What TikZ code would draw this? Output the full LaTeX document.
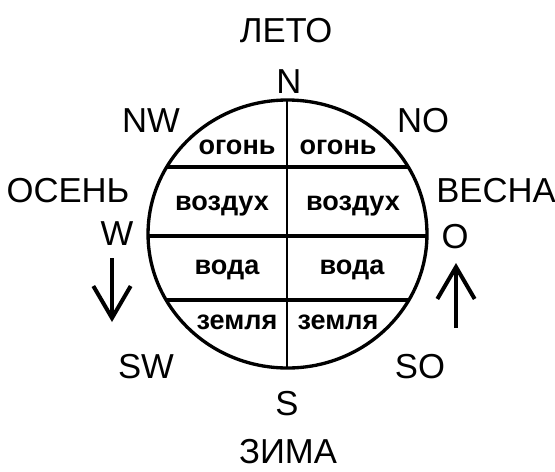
\documentclass[tikz,border=0pt]{standalone}
\usepackage{fontspec}
\setmainfont{Liberation Sans}
\usetikzlibrary{arrows.meta}
\begin{document}
\begin{tikzpicture}[x=0.75pt, y=-0.75pt,
    label/.style={font=\fontsize{26}{30}\selectfont, inner sep=0pt, text height=18.2pt, text depth=0pt},
    element/.style={font=\bfseries\fontsize{20.3}{24}\selectfont, inner sep=0pt, text height=10.6pt, text depth=0pt},
    turn/.style={line width=3pt, -{Straight Barb[length=24pt, width=28pt]}}]
        \useasboundingbox (0,0) rectangle (555,471);
        \coordinate (c) at (287.5,234);

        % Trennlinien im Kreis
        \begin{scope}
            \clip (c) ellipse [x radius=104.6pt, y radius=100.5pt];
            \foreach \y in {167, 236, 300} {
                \draw[line width=2.3pt] (140,\y) -- (440,\y);
            }
            \draw[line width=1.8pt] (287,90) -- (287,380);
        \end{scope}
        \draw[line width=2.5pt] (c) ellipse [x radius=104.6pt, y radius=100.5pt];

        % Elemente, linke Haelfte
        \node[element] (fireL)  at (237,147) {огонь};
        \node[element] (airL)   at (222,203) {воздух};
        \node[element] (waterL) at (227,267) {вода};
        \node[element] (earthL) at (237,322) {земля};

        % Elemente, rechte Haelfte
        \node[element] (fireR)  at (338,147) {огонь};
        \node[element] (airR)   at (353,203) {воздух};
        \node[element] (waterR) at (352,267) {вода};
        \node[element] (earthR) at (338,322) {земля};

        % Himmelsrichtungen
        \node[label] (n)  at (289,81)  {N};
        \node[label] (nw) at (151,120) {NW};
        \node[label] (no) at (423,120) {NO};
        \node[label] (w)  at (117,233) {W};
        \node[label] (o)  at (455,236) {O};
        \node[label] (sw) at (146,366) {SW};
        \node[label] (so) at (420,366) {SO};
        \node[label] (s)  at (287,403) {S};

        % Jahreszeiten
        \node[label] (summer) at (286,30)  {ЛЕТО};
        \node[label] (autumn) at (68,190)  {ОСЕНЬ};
        \node[label] (spring) at (496,190) {ВЕСНА};
        \node[label] (winter) at (288,451) {ЗИМА};

        % Drehrichtung
        \coordinate (downA) at (112,258);
        \coordinate (downB) at (112,322);
        \coordinate (upA)   at (456,328);
        \coordinate (upB)   at (456,263);
        \draw[turn] (downA) -- (downB);
        \draw[turn] (upA) -- (upB);
    \end{tikzpicture}
\end{document}
